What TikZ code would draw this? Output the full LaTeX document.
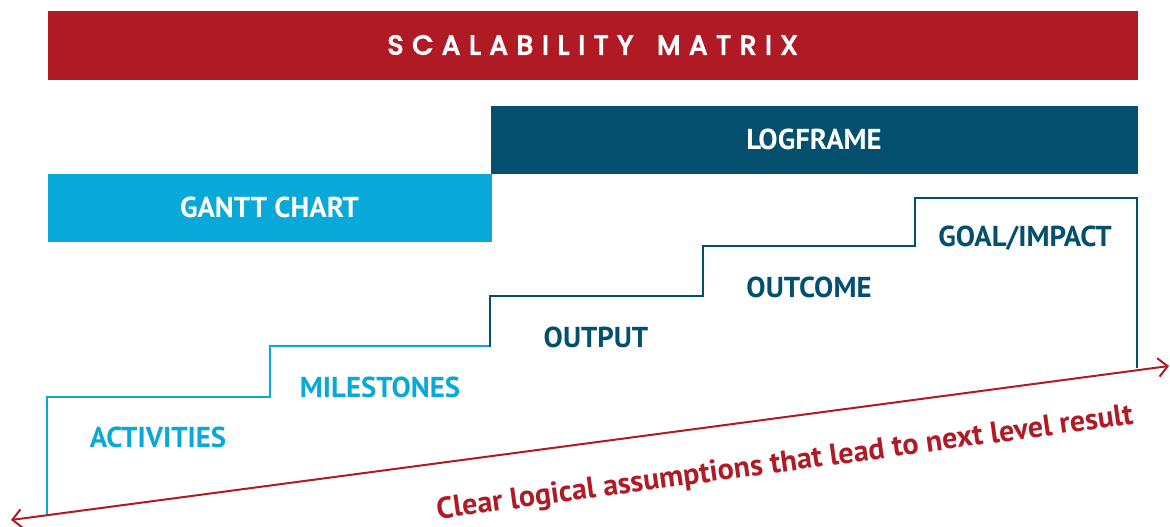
\documentclass[tikz,border=0pt]{standalone}
\usepackage{fontspec}
\setmainfont{PT Sans}
\newfontfamily\titlefont[LetterSpace=34,WordSpace=1.5,FakeBold=5]{Poppins}
\usepackage{xcolor}
\usetikzlibrary{arrows.meta}

\definecolor{mxred}{RGB}{175,26,37}
\definecolor{mxdark}{RGB}{2,79,110}
\definecolor{mxlight}{RGB}{8,168,216}

\begin{document}
\begin{tikzpicture}[x=0.75pt, y=-0.75pt, thick,
	bar/.style={anchor=north west, inner sep=0pt, minimum height=51pt},
	stage/.style={font=\bfseries\fontsize{21.6}{26}\selectfont}]
	\useasboundingbox (0,0) rectangle (1170,527);

	% header bars
	\node[bar, fill=mxred, minimum width=817.5pt, minimum height=51.75pt] (matrix) at (47,10) {};
	\node[font=\titlefont\fontsize{20}{24}\selectfont, text=white] (matrixlbl) at (matrix.center) {SCALABILITY MATRIX};
	\node[bar, fill=mxdark, minimum width=485.25pt] (logframe) at (490,105) {};
	\node[stage, text=white] (logframelbl) at (logframe.center) {LOGFRAME};
	\node[bar, fill=mxlight, minimum width=333pt] (gantt) at (47,173) {};
	\node[stage, text=white] (ganttlbl) at (gantt.center) {GANTT CHART};

	% staircase
	\draw[mxlight, line width=1.5pt] (47,515) |- (270,397) |- (490,346);
	\draw[mxdark, line width=1.5pt] (490,346.5) |- (703,296) |- (915,246) |- (1137,198) -- (1137,368);

	\begin{scope}[stage]
		\node[text=mxlight] (activities) at (158,437) {ACTIVITIES};
		\node[text=mxlight] (milestones) at (380,387) {MILESTONES};
		\node[text=mxdark] (output) at (596,337) {OUTPUT};
		\node[text=mxdark] (outcome) at (809,287) {OUTCOME};
		\node[text=mxdark] (goal) at (1025,238) {GOAL/IMPACT};
	\end{scope}

	% assumptions arrow
	\coordinate (start) at (11,520);
	\coordinate (end) at (1169,366);
	\draw[mxred, line width=1.5pt, {Straight Barb[length=7pt,width=14pt]}-{Straight Barb[length=7pt,width=14pt]}] (start) -- (end);
	\node[text=mxred, rotate=7.8, font=\bfseries\fontsize{22.6}{27}\selectfont] (assume) at (785,464) {Clear logical assumptions that lead to next level result};
\end{tikzpicture}
\end{document}
